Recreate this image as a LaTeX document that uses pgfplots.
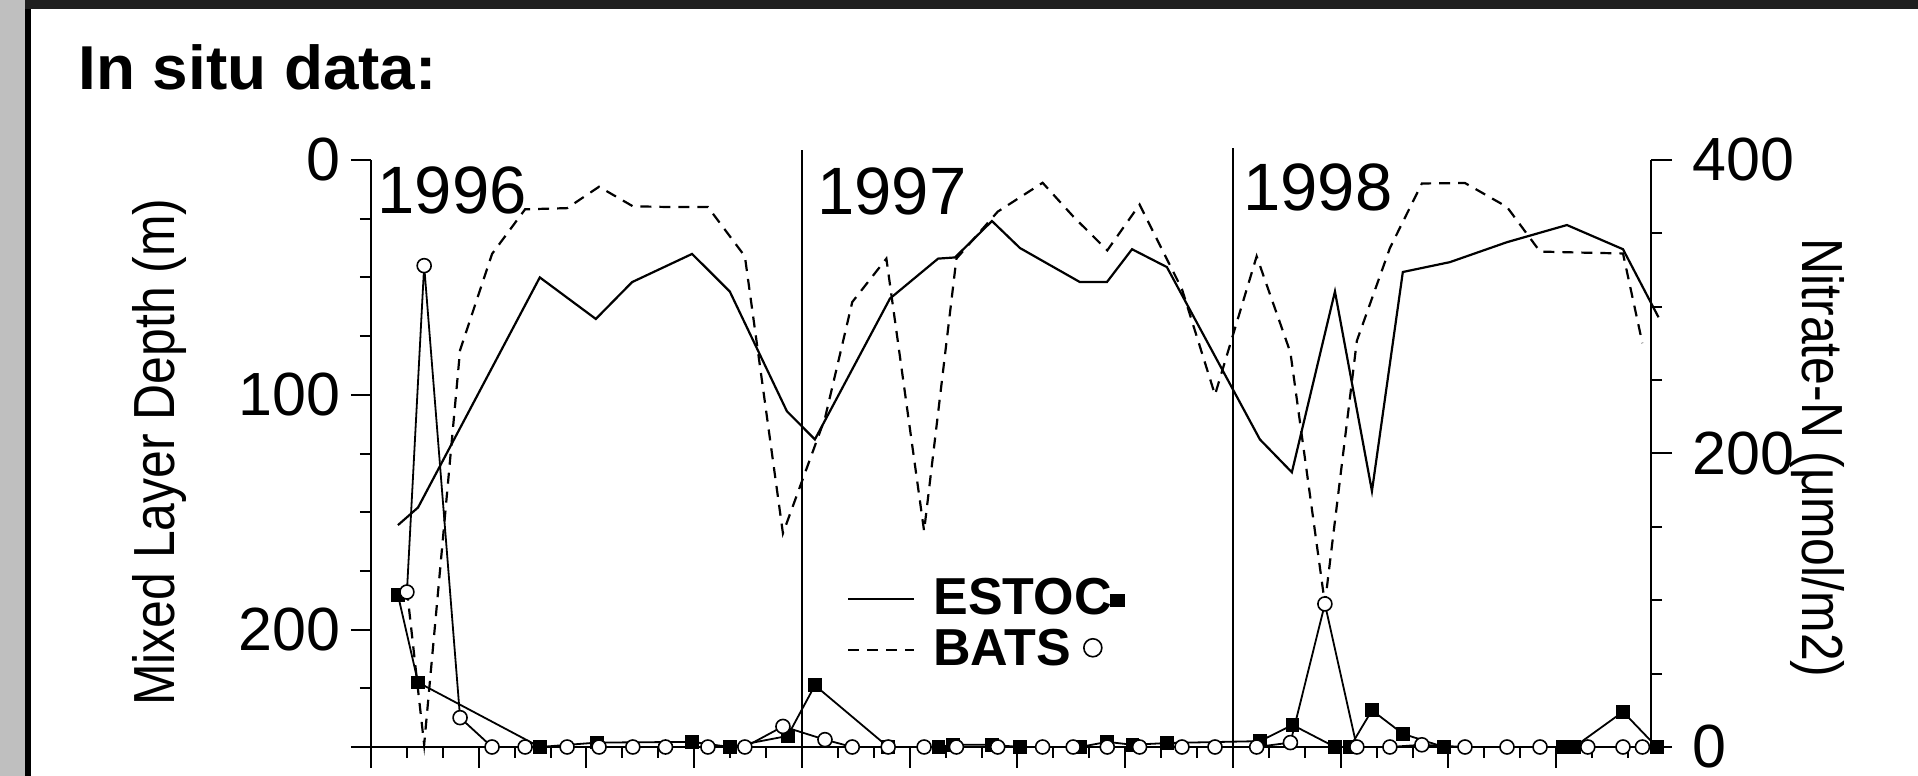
\documentclass[border=0pt]{standalone}
\usepackage{pgfplots}
\pgfplotsset{compat=1.18}
\usepackage{fontspec}
\setmainfont{Liberation Sans}
\newfontfamily\narrowfont{Liberation Sans}[FakeStretch=0.86]
\newfontfamily\widefont{Liberation Sans}[FakeStretch=1.03]

\begin{document}
\begin{tikzpicture}
\useasboundingbox (0,0) rectangle (959pt,388pt);
\fill[white] (0,0) rectangle (959pt,388pt);
\fill[gray!50] (0,0) rectangle (12.5pt,388pt);
\fill[black] (12.5pt,0) rectangle (15.5pt,388pt);
\fill[black!88] (12.5pt,383.5pt) rectangle (959pt,388pt);
\node[anchor=base west, inner sep=0pt, font=\widefont\bfseries\fontsize{31}{31}\selectfont] at (39pt,343pt) {In situ data:};
\node[rotate=90, anchor=base, inner sep=0pt, font=\narrowfont\fontsize{29}{29}\selectfont] at (87pt,162pt) {Mixed Layer Depth (m)};
\node[rotate=-90, anchor=base, inner sep=0pt, font=\narrowfont\fontsize{29}{29}\selectfont] at (901pt,159pt) {Nitrate-N (μmol/m2)};

% ---------- left axis: mixed layer depth ----------
\begin{axis}[
  at={(185.5pt,14.5pt)}, anchor=south west,
  scale only axis, width=640pt, height=293.5pt,
  clip=false,
  xmin=0, xmax=35.64, ymin=0, ymax=250, y dir=reverse,
  axis x line=none, axis y line*=left,
  axis line style={-, line width=1pt},
  ytick={0,100,200}, minor ytick={25,50,75,125,150,175,225},
  extra y ticks={250}, extra y tick labels={},
  tick align=outside, major tick length=10pt, minor tick length=5.5pt,
  every tick/.style={line width=1pt, black},
  /pgf/number format/assume math mode=true,
  yticklabel style={font=\fontsize{30.5}{30.5}\selectfont, anchor=east, inner sep=0pt, xshift=-5pt},
]
\addplot[line width=1.1pt, black] coordinates {
(0.75,155.5) (1.31,148) (4.70,50) (6.26,67.7) (7.27,52) (8.94,40) (9.99,56)
(11.58,107) (12.36,119) (14.45,59) (15.79,42) (16.26,41.5) (17.29,26) (18.07,37.5)
(19.74,52) (20.49,52) (21.19,38) (22.16,45.6) (24.75,119) (25.64,133) (26.84,56)
(27.87,141) (28.73,47.7) (30.04,43.5) (31.63,35) (33.30,27.7) (34.86,38) (35.85,67)
};
\addplot[line width=1.1pt, black, dash pattern=on 5.5pt off 4pt] coordinates {
(1.0,183) (1.48,249) (2.48,81) (3.37,40) (4.29,21) (5.46,20.5) (6.35,11.4) (7.29,19.7)
(8.2,20) (9.38,20) (10.41,41) (11.47,159) (12.64,110) (13.4,60.5) (14.35,42) (15.4,158)
(16.3,42) (17.45,22) (18.7,9.7) (19.55,24) (20.5,38.5) (21.4,19) (22.58,55) (23.5,100)
(24.66,41) (25.6,82) (26.56,189) (27.45,77) (28.37,37.5) (29.26,10) (30.46,9.8)
(31.63,20) (32.55,39) (33.88,39.5) (34.86,39.8) (35.4,78)
};
\node[anchor=base west, inner sep=0pt, font=\fontsize{33.5}{33.5}\selectfont] at (axis cs:0.17,22.6) {1996};
\node[anchor=base west, inner sep=0pt, font=\fontsize{33.5}{33.5}\selectfont] at (axis cs:12.42,23.4) {1997};
\node[anchor=base west, inner sep=0pt, font=\fontsize{33.5}{33.5}\selectfont] at (axis cs:24.28,21.3) {1998};
\end{axis}

% ---------- right axis: nitrate ----------
\begin{axis}[
  at={(185.5pt,14.5pt)}, anchor=south west,
  scale only axis, width=640pt, height=293.5pt,
  clip=false,
  xmin=0, xmax=35.64, ymin=0, ymax=400,
  axis x line*=bottom, axis y line*=right,
  axis line style={-, line width=1pt},
  xtick={0,3,...,33},
  minor xtick={1,2,4,5,7,8,10,11,13,14,16,17,19,20,22,23,25,26,28,29,31,32,34,35},
  xticklabels={},
  ytick={0,200,400}, minor ytick={50,100,150,250,300,350},
  tick align=outside, major tick length=10.5pt, minor tick length=5.5pt,
  every tick/.style={line width=1pt, black},
  /pgf/number format/assume math mode=true,
  yticklabel style={font=\fontsize{30.5}{30.5}\selectfont, anchor=west, inner sep=0pt, xshift=10pt},
  legend style={at={(axis description cs:0.372,0.29)}, anchor=north west,
    draw=none, fill=none, inner sep=0pt, outer sep=0pt, row sep=3.5pt, column sep=9pt,
    nodes={inner sep=0pt, text height=19pt, text depth=3pt},
    font=\bfseries\fontsize{26}{26}\selectfont},
  legend cell align=left,
  legend image code/.code={\draw[#1] (0pt,0pt) -- (33pt,0pt); \path (0pt,4pt);},
]
\addlegendimage{line width=1.1pt, black}
\addlegendimage{line width=1.1pt, black, dash pattern=on 5.5pt off 4pt}
\addlegendentry{ESTOC\kern-1pt\rule[4pt]{7.5pt}{6.5pt}}
\addlegendentry{BATS\hspace{6pt}\tikz[baseline=0pt]\draw[line width=0.8pt] (0,9pt) circle[radius=4.5pt];}

\draw[line width=1pt] ([yshift=-10.5pt]axis cs:12,0) -- ([yshift=5pt]axis cs:12,400);
\draw[line width=1pt] ([yshift=-10.5pt]axis cs:24,0) -- ([yshift=6pt]axis cs:24,400);

\addplot[line width=0.9pt, black, mark=square*, mark size=3pt, mark options={solid, fill=black}] coordinates {
(0.75,103.6) (1.31,44) (4.70,0) (6.29,3) (8.94,3.5) (9.99,0) (11.6,7.5) (12.36,42)
(14.4,0) (15.8,0) (16.2,1.5) (17.3,1.5) (18.07,0) (19.74,0) (20.5,3.5) (21.2,1.5)
(22.16,2.7) (24.75,4) (25.66,15) (26.84,0) (27.26,0) (27.87,25) (28.73,9) (29.87,0)
(33.19,0) (33.5,0) (34.86,24) (35.8,0)
};
\addplot[line width=0.9pt, black, mark=*, mark size=3.5pt, mark options={solid, fill=white, line width=0.8pt}] coordinates {
(1.0,105.6) (1.48,328) (2.48,20) (3.37,0) (4.29,0) (5.46,0) (6.35,0) (7.29,0) (8.2,0)
(9.38,0) (10.41,0) (11.47,14) (12.64,5) (13.4,0) (14.4,0) (15.4,0) (16.3,0) (17.45,0)
(18.7,0) (19.55,0) (20.5,0) (21.4,0) (22.58,0) (23.5,0) (24.66,0) (25.6,3) (26.56,97.5)
(27.45,0) (28.37,0) (29.26,1.5) (30.46,0) (31.63,0) (32.55,0) (33.88,0) (34.86,0) (35.4,0)
};
\end{axis}
\end{tikzpicture}
\end{document}
